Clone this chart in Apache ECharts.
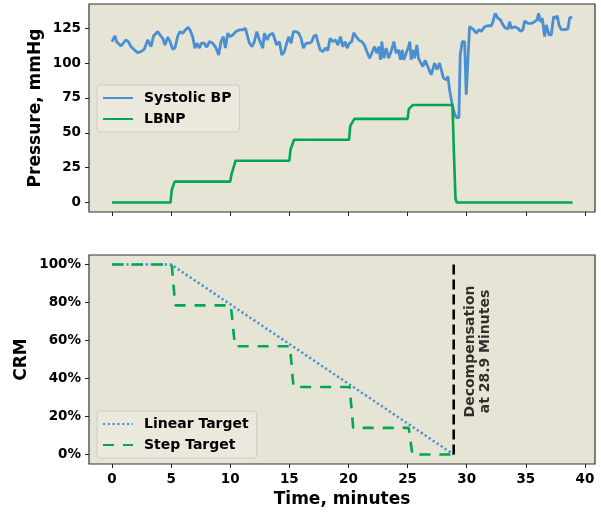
<!DOCTYPE html>
<html>
<head>
<meta charset="utf-8">
<script src="https://cdn.jsdelivr.net/npm/echarts@6/dist/echarts.min.js"></script>
<style>
html,body{margin:0;padding:0;background:#fff;}
#c{width:601px;height:512px;}
</style>
</head>
<body>
<div id="c"></div>
<script>
// ---- data ----
const bpTime = [0.00,0.11,0.25,0.39,0.53,0.76,0.96,1.18,1.38,1.61,1.89,2.17,2.45,2.73,3.02,3.30,3.52,3.86,4.06,4.29,4.48,4.71,4.91,5.13,5.33,5.55,5.75,5.98,6.20,6.43,6.60,6.82,7.02,7.19,7.39,7.56,7.81,8.01,8.24,8.52,8.80,9.02,9.22,9.42,9.59,9.79,9.98,10.21,10.49,10.77,11.06,11.28,11.42,11.62,11.85,12.04,12.24,12.47,12.75,
12.89,13.12,13.31,13.60,13.74,13.93,14.16,14.36,14.58,14.78,14.95,15.15,15.34,15.57,15.80,15.99,16.19,16.42,16.70,16.90,17.07,17.26,17.40,17.60,17.83,18.05,18.25,18.45,18.67,18.90,19.10,19.32,19.52,19.72,19.89,20.08,20.28,20.45,20.65,20.87,21.13,21.35,21.55,21.78,21.97,22.20,22.40,22.57,22.71,22.82,22.99,23.19,23.39,23.61,23.84,24.03,24.23,24.40,24.54,24.68,24.88,25.08,25.19,25.30,25.44,25.59,25.78,25.92,
26.01,26.29,26.49,26.77,27.00,27.28,27.48,27.70,27.84,28.04,28.27,28.41,28.55,28.75,28.91,29.11,29.34,29.45,29.62,29.82,29.96,30.10,30.24,30.38,30.58,30.81,31.03,31.23,31.51,31.79,32.08,32.22,32.41,32.64,32.86,33.06,33.29,33.49,33.63,33.77,34.05,34.33,34.56,34.75,34.90,35.18,35.46,35.74,35.94,36.08,36.22,36.39,36.59,36.73,36.96,37.15,37.35,37.52,37.66,37.80,38.00,38.28,38.56,38.70,38.90];
const bpValue = [115.4,114.3,119.5,115.4,116.6,112.3,114.3,116.6,115.4,111.8,109.5,107.5,108.3,110.0,116.6,111.8,119.5,122.6,120.2,117.8,113.0,118.6,115.4,110.0,110.8,119.0,122.6,121.4,123.8,125.7,123.8,119.0,110.7,114.3,110.8,114.3,114.3,111.4,115.4,114.3,110.8,105.9,115.4,119.0,110.8,121.4,119.0,120.2,122.6,123.8,123.8,125.0,123.8,114.3,111.8,115.4,122.6,116.6,110.7,
121.4,116.6,120.2,121.4,121.0,113.0,115.4,105.9,108.3,114.3,119.0,114.3,122.6,122.6,121.4,117.8,110.8,114.3,114.3,115.4,119.5,120.2,115.4,109.5,108.3,110.8,109.0,117.8,115.4,116.6,113.0,119.0,111.8,115.4,110.8,114.3,115.4,121.8,119.0,116.6,115.4,113.0,108.3,103.5,107.1,111.8,107.1,111.8,102.4,115.4,103.5,110.8,103.5,108.3,115.4,107.1,109.5,102.4,109.5,102.4,107.1,111.8,115.4,102.4,109.5,103.5,113.0,103.5,
103.5,97.5,102.0,96.2,91.6,100.0,95.4,100.0,100.0,89.2,88.0,90.4,80.9,71.3,65.3,61.0,61.0,105.9,115.4,115.4,77.3,77.3,126.1,126.8,124.0,121.4,124.0,122.8,126.1,126.8,126.8,129.7,135.7,132.2,131.0,127.4,125.0,124.6,129.7,125.0,126.1,125.0,122.8,124.0,130.2,128.5,128.5,129.7,131.0,135.7,129.7,132.2,119.0,127.4,120.2,120.2,133.3,132.2,134.0,127.4,124.0,124.0,124.6,132.2,133.3];

const lbnpTime  = [0, 4.95, 5.05, 5.15, 5.3, 10.0, 10.1, 10.45, 15.0, 15.1, 15.4, 20.05, 20.15, 20.5, 25.0, 25.1, 25.45, 28.8, 28.9, 29.05, 29.15, 38.95];
const lbnpValue = [0, 0, 9, 10, 15, 15, 20, 30, 30, 38, 45, 45, 55, 60, 60, 67, 70, 70, 40, 3, 0, 0];

const linearTime  = [0, 5, 28.9];
const linearValue = [1, 1, 0];

const stepTime  = [0, 5.05, 5.35, 10.05, 10.4, 15.05, 15.35, 20.1, 20.4, 25.1, 25.4, 28.9];
const stepValue = [1, 1, 0.785, 0.785, 0.57, 0.57, 0.355, 0.355, 0.14, 0.14, 0, 0];

const decompTime = 28.9;
const decompLabel = 'Decompensation\nat 28.9 Minutes';

const xTicks = [0, 5, 10, 15, 20, 25, 30, 35, 40];
const pressureTicks = [0, 25, 50, 75, 100, 125];
const crmTicks = [0, 0.2, 0.4, 0.6, 0.8, 1.0];

// ---- chart ----
const zip = (a, b) => a.map((v, i) => [v, b[i]]);
const FONT = 'DejaVu Sans';
const BLUE = '#4a8fd2';
const GREEN = '#00a651';
const BG = '#e6e4d5';

const tickLabel = { color: '#000', fontFamily: FONT, fontWeight: 'bold', fontSize: 13.5 };
const nameStyle = { color: '#000', fontFamily: FONT, fontWeight: 'bold', fontSize: 17 };

function xAxis(gridIndex, showLabels) {
  return {
    type: 'value', gridIndex: gridIndex, min: -1.945, max: 40.85,
    axisLine: { show: false, onZero: false },
    axisTick: { show: true, length: 4, lineStyle: { color: '#222', width: 1 }, customValues: xTicks },
    axisLabel: Object.assign({ show: showLabels, margin: 8, customValues: xTicks }, tickLabel),
    splitLine: { show: false },
    name: showLabels ? 'Time, minutes' : '',
    nameLocation: 'middle', nameGap: 27, nameMoveOverlap: false,
    nameTextStyle: nameStyle
  };
}

const legendBase = {
  orient: 'vertical', left: 97,
  itemWidth: 30, itemHeight: 14, itemGap: 7, padding: [6, 8, 6, 5],
  backgroundColor: '#ebe9dd', borderColor: '#cccccc', borderWidth: 1, borderRadius: 3,
  itemStyle: { opacity: 0 },
  textStyle: { color: '#000', fontFamily: FONT, fontWeight: 'bold', fontSize: 14, padding: [0, 0, 0, 6] }
};

const option = {
  animation: false,
  backgroundColor: '#ffffff',
  grid: [
    { left: 89, right: 6, top: 4, height: 208, show: true, backgroundColor: BG, borderColor: '#333', borderWidth: 1.2, containLabel: false },
    { left: 89, right: 6, top: 255, height: 209, show: true, backgroundColor: BG, borderColor: '#333', borderWidth: 1.2, containLabel: false }
  ],
  xAxis: [xAxis(0, false), xAxis(1, true)],
  yAxis: [
    {
      type: 'value', gridIndex: 0, min: -6.8, max: 142.4,
      axisLine: { show: false, onZero: false },
      axisTick: { show: true, length: 4, lineStyle: { color: '#222', width: 1 }, customValues: pressureTicks },
      axisLabel: Object.assign({ margin: 8, customValues: pressureTicks }, tickLabel),
      splitLine: { show: false },
      name: 'Pressure, mmHg', nameLocation: 'middle', nameGap: 45, nameMoveOverlap: false,
      nameTextStyle: nameStyle
    },
    {
      type: 'value', gridIndex: 1, min: -0.05, max: 1.05,
      axisLine: { show: false, onZero: false },
      axisTick: { show: true, length: 4, lineStyle: { color: '#222', width: 1 }, customValues: crmTicks },
      axisLabel: Object.assign({ margin: 8, customValues: crmTicks, formatter: v => Math.round(v * 100) + '%' }, tickLabel),
      splitLine: { show: false },
      name: 'CRM', nameLocation: 'middle', nameGap: 59, nameMoveOverlap: false,
      nameTextStyle: nameStyle
    }
  ],
  legend: [
    Object.assign({}, legendBase, { data: ['Systolic BP', 'LBNP'], top: 85 }),
    Object.assign({}, legendBase, { data: ['Linear Target', 'Step Target'], top: 411 })
  ],
  series: [
    {
      name: 'Systolic BP', type: 'line', xAxisIndex: 0, yAxisIndex: 0,
      data: zip(bpTime, bpValue), symbol: 'none', color: BLUE,
      lineStyle: { width: 2.8, color: BLUE }
    },
    {
      name: 'LBNP', type: 'line', xAxisIndex: 0, yAxisIndex: 0,
      data: zip(lbnpTime, lbnpValue), symbol: 'none', color: GREEN,
      lineStyle: { width: 2.6, color: GREEN }
    },
    {
      name: 'Linear Target', type: 'line', xAxisIndex: 1, yAxisIndex: 1,
      data: zip(linearTime, linearValue), symbol: 'none', color: BLUE,
      lineStyle: { width: 2.5, color: BLUE, type: [2.2, 2.6] }
    },
    {
      name: 'Step Target', type: 'line', xAxisIndex: 1, yAxisIndex: 1,
      data: zip(stepTime, stepValue), symbol: 'none', color: GREEN,
      lineStyle: { width: 2.6, color: GREEN, type: [11, 9] }
    },
    {
      name: 'Decompensation', type: 'line', xAxisIndex: 1, yAxisIndex: 1,
      data: [[decompTime, 0], [decompTime, 1]], symbol: 'none', color: '#000',
      lineStyle: { width: 2.6, color: '#000', type: [10, 5] }
    },
    {
      name: 'DecompLabel', type: 'scatter', xAxisIndex: 1, yAxisIndex: 1,
      data: [[decompTime, 0.5]], symbolSize: 1, itemStyle: { color: 'rgba(0,0,0,0)' },
      label: {
        show: true, formatter: decompLabel, position: 'inside', offset: [8, 24], rotate: 90,
        color: '#000', fontFamily: FONT, fontWeight: 'bold', fontSize: 14, lineHeight: 15, align: 'center', verticalAlign: 'middle'
      }
    }
  ]
};

const chart = echarts.init(document.getElementById('c'), null, { renderer: 'canvas' });
chart.setOption(option);
</script>
</body>
</html>
